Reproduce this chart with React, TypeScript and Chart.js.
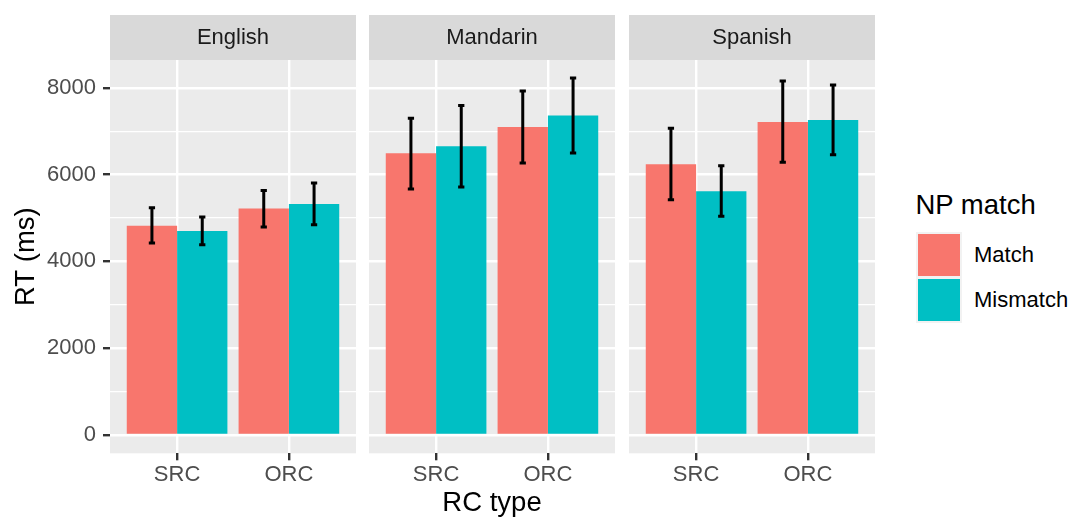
import React, { useEffect, useRef } from 'react';
import { Chart, registerables } from 'chart.js';

Chart.register(...registerables);

// ---------------- DATA ----------------
const languages = ['English', 'Mandarin', 'Spanish'];
const rcTypes = ['SRC', 'ORC'];
const seriesNames = ['Match', 'Mismatch'];
const seriesColors = ['#F8766D', '#00BFC4'];

// mean RT (ms), order [SRC, ORC]
const englishMatch = [4820, 5220];
const englishMismatch = [4700, 5320];
const mandarinMatch = [6490, 7095];
const mandarinMismatch = [6650, 7360];
const spanishMatch = [6235, 7210];
const spanishMismatch = [5612, 7257];

// error bar lower / upper bounds, order [SRC, ORC]
const englishMatchLow = [4420, 4790];
const englishMatchHigh = [5236, 5635];
const englishMismatchLow = [4383, 4844];
const englishMismatchHigh = [5020, 5804];
const mandarinMatchLow = [5666, 6265];
const mandarinMatchHigh = [7296, 7926];
const mandarinMismatchLow = [5712, 6496];
const mandarinMismatchHigh = [7589, 8228];
const spanishMatchLow = [5421, 6281];
const spanishMatchHigh = [7066, 8157];
const spanishMismatchLow = [5036, 6459];
const spanishMismatchHigh = [6205, 8065];

const yTickValues = [0, 1000, 2000, 3000, 4000, 5000, 6000, 7000, 8000];
const yLabelValues = [0, 2000, 4000, 6000, 8000];
const xTickValues = [1, 2];

const means = [
  [englishMatch, englishMismatch],
  [mandarinMatch, mandarinMismatch],
  [spanishMatch, spanishMismatch],
];
const lows = [
  [englishMatchLow, englishMismatchLow],
  [mandarinMatchLow, mandarinMismatchLow],
  [spanishMatchLow, spanishMismatchLow],
];
const highs = [
  [englishMatchHigh, englishMismatchHigh],
  [mandarinMatchHigh, mandarinMismatchHigh],
  [spanishMatchHigh, spanishMismatchHigh],
];

// ---------------- STYLE / LAYOUT ----------------
const FONT = '"Liberation Sans", Arial, Helvetica, sans-serif';
const CANVAS_H = 520;
const PLOT_BOTTOM = 453.3;
const Y_MIN = -425;
const Y_MAX = 8640;
const X_MIN = 0.4;
const X_MAX = 2.6;
const ERR_HALF = 0.028;

const panelLayout = [
  { left: 0, width: 356, showY: true, showXTitle: false },
  { left: 369, width: 246, showY: false, showXTitle: true },
  { left: 629, width: 246, showY: false, showXTitle: false },
];

const panelBgPlugin = {
  id: 'panelBg',
  beforeDraw(chart: any) {
    const { ctx, chartArea } = chart;
    ctx.save();
    ctx.fillStyle = '#EBEBEB';
    ctx.fillRect(chartArea.left, chartArea.top, chartArea.right - chartArea.left, chartArea.bottom - chartArea.top);
    const tb = chart.titleBlock;
    if (tb) {
      ctx.fillStyle = '#D9D9D9';
      ctx.fillRect(chartArea.left, tb.top, chartArea.right - chartArea.left, chartArea.top - tb.top);
    }
    ctx.restore();
  },
};

const errorBarPlugin = {
  id: 'errorBars',
  afterDatasetsDraw(chart: any) {
    const { ctx } = chart;
    const xs = chart.scales.x;
    const ys = chart.scales.y;
    const half = Math.abs(xs.getPixelForValue(1 + ERR_HALF) - xs.getPixelForValue(1));
    chart.data.datasets.forEach((ds: any, i: number) => {
      const meta = chart.getDatasetMeta(i);
      meta.data.forEach((el: any, j: number) => {
        const yl = ys.getPixelForValue(ds.errLow[j]);
        const yh = ys.getPixelForValue(ds.errHigh[j]);
        const px = el.x;
        ctx.save();
        ctx.strokeStyle = '#000000';
        ctx.lineWidth = 3;
        ctx.lineCap = 'butt';
        ctx.beginPath();
        ctx.moveTo(px, yl);
        ctx.lineTo(px, yh);
        ctx.moveTo(px - half, yl);
        ctx.lineTo(px + half, yl);
        ctx.moveTo(px - half, yh);
        ctx.lineTo(px + half, yh);
        ctx.stroke();
        ctx.restore();
      });
    });
  },
};

function Panel({ index }: { index: number }) {
  const ref = useRef<HTMLCanvasElement | null>(null);
  const lay = panelLayout[index];

  useEffect(() => {
    if (!ref.current) return;
    const datasets = seriesNames.map((name, s) => ({
      label: name,
      data: xTickValues.map((xv, k) => ({ x: xv, y: means[index][s][k] })),
      backgroundColor: seriesColors[s],
      borderWidth: 0,
      categoryPercentage: 0.9,
      barPercentage: 1.0,
      errLow: lows[index][s],
      errHigh: highs[index][s],
    }));

    const chart = new Chart(ref.current, {
      type: 'bar',
      data: { datasets: datasets as any },
      plugins: [panelBgPlugin, errorBarPlugin],
      options: {
        animation: false,
        responsive: false,
        maintainAspectRatio: false,
        devicePixelRatio: 1,
        layout: { padding: { top: 15, left: 0, right: 0, bottom: 0 } },
        plugins: {
          legend: { display: false },
          tooltip: { enabled: false },
          title: {
            display: true,
            text: languages[index],
            fullSize: false,
            color: '#1A1A1A',
            font: { family: FONT, size: 22, weight: 'normal', lineHeight: 1.2 },
            padding: { top: 9.3, bottom: 9.3 },
          },
        },
        scales: {
          x: {
            type: 'linear',
            min: X_MIN,
            max: X_MAX,
            offset: false,
            afterBuildTicks: (s: any) => {
              s.ticks = xTickValues.map((v) => ({ value: v }));
            },
            afterFit: (s: any) => {
              s.height = CANVAS_H - PLOT_BOTTOM;
            },
            ticks: {
              autoSkip: false,
              maxRotation: 0,
              padding: 1,
              color: '#4D4D4D',
              font: { family: FONT, size: 22 },
              callback: (v: any) => rcTypes[xTickValues.indexOf(Number(v))] ?? '',
            },
            grid: {
              offset: false,
              color: '#FFFFFF',
              lineWidth: 2.4,
              drawTicks: true,
              tickLength: 7,
              tickColor: '#333333',
              tickWidth: 2.4,
            },
            border: { display: false },
            title: {
              display: lay.showXTitle,
              text: 'RC type',
              color: '#000000',
              font: { family: FONT, size: 27.5, weight: 'normal', lineHeight: 1.2 },
              padding: { top: 0, bottom: 0 },
            },
          },
          y: {
            type: 'linear',
            min: Y_MIN,
            max: Y_MAX,
            afterBuildTicks: (s: any) => {
              s.ticks = yTickValues.map((v) => ({ value: v }));
            },
            afterFit: (s: any) => {
              s.width = lay.showY ? 110 : 0;
            },
            ticks: {
              display: lay.showY,
              autoSkip: false,
              padding: 7,
              color: '#4D4D4D',
              font: { family: FONT, size: 22 },
              callback: (v: any) => (yLabelValues.includes(Number(v)) ? String(v) : ''),
            },
            grid: {
              color: '#FFFFFF',
              lineWidth: (c: any) => (c.tick && yLabelValues.includes(c.tick.value) ? 2.4 : 1.2),
              drawTicks: lay.showY,
              tickLength: 7,
              tickWidth: 2.4,
              tickColor: (c: any) =>
                c.tick && yLabelValues.includes(c.tick.value) ? '#333333' : 'rgba(0,0,0,0)',
            },
            border: { display: false },
            title: {
              display: lay.showY,
              text: 'RT (ms)',
              color: '#000000',
              font: { family: FONT, size: 27.5, weight: 'normal', lineHeight: 1.2 },
              padding: { top: 10, bottom: 0 },
            },
          },
        },
      } as any,
    });
    return () => chart.destroy();
  }, [index]);

  return (
    <canvas
      ref={ref}
      width={lay.width}
      height={CANVAS_H}
      style={{ position: 'absolute', left: lay.left, top: 0, width: lay.width, height: CANVAS_H }}
    />
  );
}

function Legend() {
  return (
    <>
      <div
        style={{
          position: 'absolute',
          left: 915.5,
          top: 191,
          fontSize: 27.5,
          lineHeight: '27.5px',
          color: '#000000',
          whiteSpace: 'nowrap',
        }}
      >
        NP match
      </div>
      {seriesNames.map((name, i) => (
        <React.Fragment key={name}>
          <div
            style={{
              position: 'absolute',
              left: 916,
              top: 232 + i * 45.5,
              width: 46,
              height: 45.5,
              background: '#F2F2F2',
            }}
          >
            <div
              style={{
                position: 'absolute',
                left: 1.7,
                top: 1.6,
                width: 42.6,
                height: 42.3,
                background: seriesColors[i],
              }}
            />
          </div>
          <div
            style={{
              position: 'absolute',
              left: 974,
              top: 244 + i * 44.7,
              fontSize: 22,
              lineHeight: '22px',
              color: '#000000',
              whiteSpace: 'nowrap',
            }}
          >
            {name}
          </div>
        </React.Fragment>
      ))}
    </>
  );
}

export default function App() {
  return (
    <div
      style={{
        position: 'absolute',
        left: 0,
        top: 0,
        width: 1077,
        height: 520,
        background: '#FFFFFF',
        fontFamily: FONT,
        overflow: 'hidden',
      }}
    >
      {languages.map((_, i) => (
        <Panel key={i} index={i} />
      ))}
      <Legend />
    </div>
  );
}
